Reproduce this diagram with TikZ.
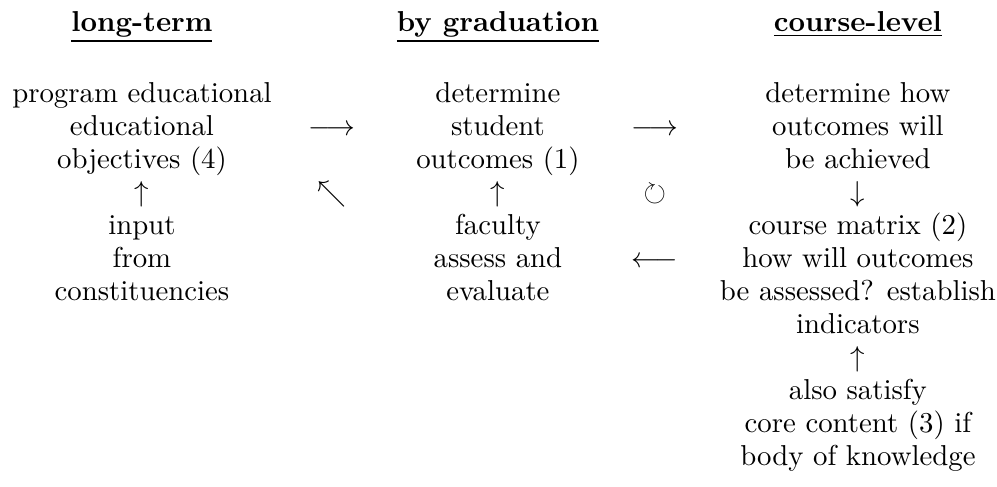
\documentclass[tikz,border=0pt]{standalone}
\usepackage{amssymb}
\usetikzlibrary{positioning}

\begin{document}
\begin{tikzpicture}[x=1pt, y=1pt,
        head_node/.style={anchor=base, inner sep=0pt, font=\fontsize{10}{11.46}\selectfont\bfseries},
        text_node/.style={anchor=base, inner sep=0pt, align=center, font=\fontsize{10}{11.46}\selectfont},
        arrow_node/.style={anchor=base, inner sep=0pt, font=\fontsize{10}{11.46}\selectfont},
        ]
            \useasboundingbox (0,0) rectangle (346.2,-169.1);

            % headings
            \node[head_node]    (head_long)     at (49.3,-10.8)     {\underline{long-term}};
            \node[head_node]    (head_grad)     at (172.9,-10.8)    {\underline{by graduation}};
            \node[head_node]    (head_course)   at (297.9,-10.8)    {\underline{course-level}};

            % long-term (base = last line)
            \node[text_node]    (obj_long)      at (49.3,-58.6)     {program educational\\educational\\objectives (4)};
            \node[arrow_node]   (up_long)       at (49.3,-70.1)     {$\uparrow$};
            \node[text_node]    (inp_long)      at (49.3,-104.4)    {input\\from\\constituencies};
            % by graduation
            \node[text_node]    (out_grad)      at (172.9,-58.6)    {determine\\student\\outcomes (1)};
            \node[arrow_node]   (up_grad)       at (172.9,-70.1)    {$\uparrow$};
            \node[text_node]    (fac_grad)      at (172.9,-104.4)   {faculty\\assess and\\evaluate};
            % course-level
            \node[text_node]    (how_course)    at (297.9,-58.6)    {determine how\\outcomes will\\be achieved};
            \node[arrow_node]   (down_course)   at (297.9,-70.1)    {$\downarrow$};
            \node[text_node]    (mat_course)    at (297.9,-115.9)   {course matrix (2)\\how will outcomes\\be assessed? establish\\indicators};
            \node[arrow_node]   (up_course)     at (297.9,-127.4)   {$\uparrow$};
            \node[text_node]    (core_course)   at (297.9,-161.7)   {also satisfy\\core content (3) if\\body of knowledge};

            % between the columns
            \node[arrow_node]   (to_grad)       at (115.3,-47.2)    {$\longrightarrow$};
            \node[arrow_node]   (back_long)     at (115.3,-70.1)    {$\nwarrow$};
            \node[arrow_node]   (to_course)     at (227.4,-47.2)    {$\longrightarrow$};
            \node[arrow_node]   (cycle)         at (227.4,-70.1)    {$\circlearrowright$};
            \node[arrow_node]   (back_grad)     at (227.4,-93.0)    {$\longleftarrow$};

        \end{tikzpicture}
\end{document}
